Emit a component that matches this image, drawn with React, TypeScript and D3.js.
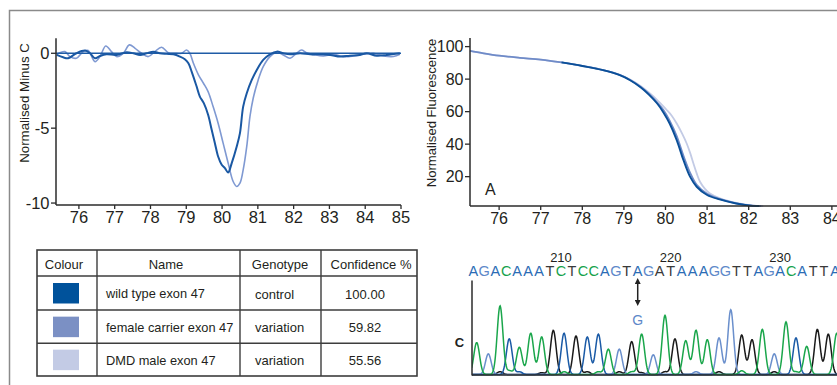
import React from "react";
import * as d3 from "d3";

// ---------- Data ----------
const leftXTicks = [76, 77, 78, 79, 80, 81, 82, 83, 84, 85];
const leftYTicks = [0, -5, -10];
const rightXTicks = [76, 77, 78, 79, 80, 81, 82, 83, 84];
const rightYTicks = [20, 40, 60, 80, 100];

// Difference plot (Normalised Minus C)
const diffDark: [number, number][] = [
  [75.38, -0.11], [75.56, -0.27], [75.7, -0.33], [75.93, 0], [76.17, 0.18], [76.31, 0], [76.45, -0.33],
  [76.59, -0.18], [76.77, -0.07], [77.05, -0.11], [77.33, 0.07], [77.52, 0], [77.71, -0.11], [77.89, 0],
  [78.08, 0.11], [78.26, 0], [78.45, -0.04], [78.64, -0.07], [78.82, -0.22], [78.96, -0.4], [79.06, -0.67],
  [79.15, -1.22], [79.29, -2.22], [79.38, -2.89], [79.49, -3.33], [79.61, -4.11], [79.71, -5.11],
  [79.8, -6.0], [79.89, -6.89], [79.99, -7.44], [80.08, -7.67], [80.17, -7.96], [80.27, -7.33],
  [80.41, -6.22], [80.5, -5.33], [80.59, -3.56], [80.69, -2.67], [80.83, -1.78], [80.97, -1.11],
  [81.15, -0.44], [81.34, -0.07], [81.53, 0.11], [81.71, 0], [81.9, -0.07], [82.18, 0], [82.46, -0.07],
  [82.74, -0.07], [83.02, -0.11], [83.3, -0.22], [83.57, -0.16], [83.85, -0.11], [84.04, 0], [84.32, -0.16],
  [84.6, -0.11], [84.97, 0],
];
const diffMedium: [number, number][] = [
  [75.38, -0.07], [75.61, 0.11], [75.75, -0.22], [75.93, -0.33], [76.12, 0.11], [76.26, 0.18], [76.45, -0.56],
  [76.59, -0.22], [76.75, 0.49], [76.91, 0.11], [77.05, -0.22], [77.24, 0], [77.41, 0.56], [77.57, 0.33],
  [77.75, 0], [77.94, -0.22], [78.12, 0.11], [78.31, 0.4], [78.5, 0.04], [78.68, 0], [78.87, 0], [79.01, 0.22],
  [79.1, 0], [79.2, -0.67], [79.34, -1.44], [79.48, -2.0], [79.61, -2.56], [79.75, -3.56], [79.89, -4.67],
  [80.03, -6.0], [80.17, -7.33], [80.31, -8.56], [80.41, -8.89], [80.5, -8.67], [80.59, -7.78], [80.69, -6.22],
  [80.78, -4.22], [80.87, -3.0], [81.01, -1.78], [81.15, -0.89], [81.34, -0.22], [81.53, 0.07], [81.71, -0.11],
  [81.9, -0.33], [82.08, 0], [82.22, 0.22], [82.36, 0.04], [82.6, -0.11], [82.83, -0.18], [83.11, -0.07],
  [83.39, -0.22], [83.67, -0.18], [83.95, -0.07], [84.23, 0], [84.51, -0.18], [84.79, -0.22], [84.97, -0.07],
];
const diffControl: [number, number][] = [[75.36, 0], [85, 0]];

// Normalised fluorescence
const fluoWild: [number, number][] = [
  [77.5, 90.3], [78.0, 88.1], [78.5, 85.5], [78.9, 82.4], [79.15, 79.3], [79.4, 75.0], [79.6, 70.5],
  [79.8, 65.0], [79.95, 59.5], [80.1, 52.7], [80.27, 42.5], [80.43, 30.3], [80.59, 20.0], [80.75, 13.8],
  [81.0, 8.7], [81.3, 6.0], [81.7, 3.5], [82.1, 2.0], [82.25, 1.95],
];
const fluoCarrier: [number, number][] = [
  [75.3, 97.4], [75.6, 96.0], [76.0, 94.4], [76.5, 93.1], [77.0, 92.0], [77.5, 90.3], [78.0, 88.2],
  [78.5, 85.6], [78.9, 82.6], [79.15, 79.5], [79.4, 75.3], [79.6, 71.0], [79.8, 65.6], [79.95, 61.0],
  [80.1, 54.5], [80.27, 45.0], [80.43, 33.0], [80.59, 22.5], [80.75, 15.0], [81.0, 9.5], [81.3, 6.3],
  [81.7, 3.6], [82.1, 2.1], [82.3, 1.95],
];
const fluoDMD: [number, number][] = [
  [75.3, 97.4], [75.6, 96.0], [76.0, 94.4], [76.5, 93.1], [77.0, 92.0], [77.5, 90.3], [78.0, 88.2],
  [78.5, 85.6], [78.9, 82.7], [79.15, 79.7], [79.4, 75.8], [79.6, 71.8], [79.71, 69.4], [79.85, 65.8],
  [80.03, 61.0], [80.15, 57.5], [80.27, 52.7], [80.4, 46.5], [80.51, 40.4], [80.6, 34.0], [80.67, 28.2],
  [80.75, 22.0], [80.83, 16.9], [80.95, 12.5], [81.07, 9.6], [81.31, 6.6], [81.7, 3.8], [82.1, 2.2], [82.35, 1.95],
];

// Table
const tableColours = ["#00529b", "#7b90c4", "#c3cbe5"];
const tableNames = ["wild type exon 47", "female carrier exon 47", "DMD male exon 47"];
const tableGenotypes = ["control", "variation", "variation"];
const tableConfidence = ["100.00", "59.82", "55.56"];
const tableHeaders = ["Colour", "Name", "Genotype", "Confidence %"];

// Sequence / chromatogram
const sequence = "AGACAAATCTCCAGTAGATAAAGGTTAGACATTA";
const seqStart = 202;
const seqNumberTicks = [210, 220, 230];
const darkCallIndex = 17;
const variantPos = 217;
const variantBase = "G";
// peaks: [position, height]
const peaksGreen: [number, number][] = [
  [202.31, 34], [204.44, 73], [206.2, 29], [207.24, 44], [208.24, 40], [214.32, 27], [217.36, 43],
  [219.49, 63], [221.38, 36], [222.32, 47], [223.35, 37], [228.37, 48], [230.53, 56], [232.42, 30],
  [235.16, 44], [205.3, 4], [210.3, 3], [213.4, 3], [216.45, 3], [226.5, 4], [231.44, 3],
];
const peaksDarkBlue: [number, number][] = [
  [205.28, 38], [210.28, 44], [212.4, 40], [213.41, 43], [231.44, 39], [206.2, 3],
];
const peaksBlack: [number, number][] = [
  [209.3, 47], [211.37, 41], [216.45, 35], [220.4, 38], [226.49, 42], [227.43, 37], [233.39, 48], [234.39, 43],
  [204.44, 3], [208.24, 2], [212.4, 3], [215.32, 3], [219.49, 3], [224.42, 3], [229.46, 3], [217.36, 2],
];
const peaksLightBlue: [number, number][] = [
  [203.37, 22], [215.32, 27], [218.42, 21], [224.42, 39], [225.49, 69], [229.46, 22], [222.32, 3],
];

const FONT = "'Liberation Sans', Arial, sans-serif";
const AXIS = "#2b2b2b";
const TXT = "#231f20";

export default function App() {
  const xL = d3.scaleLinear().domain([75.36, 85]).range([56, 401]);
  const yL = d3.scaleLinear().domain([-10.13, 1.0]).range([205, 38.3]);
  const xR = d3.scaleLinear().domain([75.3, 84.2]).range([470, 840.2]);
  const yR = d3.scaleLinear().domain([1.95, 105.3]).range([206, 38]);
  const xS = d3.scaleLinear().domain([202, 235]).range([473.3, 835]);
  const yS = d3.scaleLinear().domain([0, 100]).range([375, 281]);

  const lineL = d3.line<[number, number]>().x((d) => xL(d[0])).y((d) => yL(d[1])).curve(d3.curveCatmullRom.alpha(0.5));
  const lineR = d3.line<[number, number]>().x((d) => xR(d[0])).y((d) => yR(d[1])).curve(d3.curveCatmullRom.alpha(0.5));
  const lineS = d3.line<[number, number]>().x((d) => xS(d[0])).y((d) => yS(d[1]));

  const sigma = 0.26;
  const trace = (peaks: [number, number][]) => {
    const pts: [number, number][] = [];
    for (let p = 201.85; p <= 235.4; p += 0.04) {
      let v = 0.5;
      for (const [c, h] of peaks) v += h * Math.exp(-((p - c) * (p - c)) / (2 * sigma * sigma));
      pts.push([p, v]);
    }
    return lineS(pts) || "";
  };

  const letterColour = (ch: string, i: number) => {
    if (i === darkCallIndex) return "#3a3a3a";
    if (ch === "A") return "#2b6cb5";
    if (ch === "G") return "#5d88c9";
    if (ch === "C") return "#17a24b";
    return "#3a3a3a";
  };

  const colX = [37, 97, 240, 321, 417];
  const rowY = [250, 276, 310, 343.3, 376];
  const headerX = [64, 166, 280, 371];

  const arrowX = xS(variantPos);
  return (
    <svg
      width={837}
      height={385}
      style={{ position: "absolute", left: 0, top: 0, background: "#fff" }}
      fontFamily={FONT}
    >
      <defs>
        <clipPath id="chromClip">
          <rect x={472} y={270} width={365} height={106} />
        </clipPath>
        <marker id="ah" viewBox="0 0 10 10" refX={5} refY={5} markerWidth={4} markerHeight={4} orient="auto-start-reverse">
          <path d="M0,0 L10,5 L0,10 z" fill="#222" />
        </marker>
      </defs>

      {/* outer frame */}
      <path d="M9.5,385 L9.5,10.5 L837,10.5" fill="none" stroke="#8a8a8a" strokeWidth={1.5} />

      {/* ---------- Left chart ---------- */}
      <g>
        <path d={lineL(diffMedium) || ""} fill="none" stroke="#7f99d2" strokeWidth={1.6} />
        <path d={lineL(diffControl) || ""} fill="none" stroke="#1f5ca6" strokeWidth={1.5} />
        <path d={lineL(diffDark) || ""} fill="none" stroke="#1a58a3" strokeWidth={2} />
        <line x1={56} x2={56} y1={38.3} y2={205} stroke={AXIS} strokeWidth={1.5} />
        <line x1={56} x2={401} y1={205} y2={205} stroke={AXIS} strokeWidth={1.5} />
        {leftYTicks.map((t) => (
          <g key={t}>
            <line x1={51} x2={56} y1={yL(t)} y2={yL(t)} stroke={AXIS} strokeWidth={1.3} />
            <text x={49.5} y={yL(t)} dy="0.36em" textAnchor="end" fontSize={16.5} fill={TXT}>{t}</text>
          </g>
        ))}
        {leftXTicks.map((t) => (
          <g key={t}>
            <line x1={xL(t)} x2={xL(t)} y1={205} y2={209} stroke={AXIS} strokeWidth={1.3} />
            <text x={xL(t)} y={222.5} textAnchor="middle" fontSize={16.5} fill={TXT}>{t}</text>
          </g>
        ))}
        <text transform="translate(29,103) rotate(-90)" textAnchor="middle" fontSize={13.3} fill={TXT}>Normalised Minus C</text>
      </g>

      {/* ---------- Right chart ---------- */}
      <g>
        <path d={lineR(fluoDMD) || ""} fill="none" stroke="#c3cbe5" strokeWidth={1.8} />
        <path d={lineR(fluoCarrier) || ""} fill="none" stroke="#6f8bc8" strokeWidth={1.8} />
        <path d={lineR(fluoWild) || ""} fill="none" stroke="#0a4f98" strokeWidth={1.9} />
        <line x1={470} x2={470} y1={38} y2={206} stroke={AXIS} strokeWidth={1.5} />
        <line x1={470} x2={837} y1={206} y2={206} stroke={AXIS} strokeWidth={1.5} />
        {rightYTicks.map((t) => (
          <g key={t}>
            <line x1={465} x2={470} y1={yR(t)} y2={yR(t)} stroke={AXIS} strokeWidth={1.3} />
            <text x={463.5} y={yR(t)} dy="0.36em" textAnchor="end" fontSize={16} fill={TXT}>{t}</text>
          </g>
        ))}
        {rightXTicks.map((t) => (
          <g key={t}>
            <line x1={xR(t)} x2={xR(t)} y1={206} y2={210} stroke={AXIS} strokeWidth={1.3} />
            <text x={xR(t)} y={224} textAnchor="middle" fontSize={16} fill={TXT}>{t}</text>
          </g>
        ))}
        <text transform="translate(436,113) rotate(-90)" textAnchor="middle" fontSize={13.1} fill={TXT}>Normalised Fluorescence</text>
        <text x={485} y={195} fontSize={16} fill={TXT}>A</text>
      </g>

      {/* ---------- Table ---------- */}
      <g>
        <rect x={colX[0]} y={rowY[0]} width={colX[4] - colX[0]} height={rowY[4] - rowY[0]} fill="none" stroke="#3d3d3d" strokeWidth={1.6} />
        {colX.slice(1, 4).map((x) => (
          <line key={x} x1={x} x2={x} y1={rowY[0]} y2={rowY[4]} stroke="#3d3d3d" strokeWidth={1.4} />
        ))}
        {rowY.slice(1, 4).map((y) => (
          <line key={y} x1={colX[0]} x2={colX[4]} y1={y} y2={y} stroke="#3d3d3d" strokeWidth={1.4} />
        ))}
        {tableHeaders.map((h, i) => (
          <text key={h} x={headerX[i]} y={(rowY[0] + rowY[1]) / 2 + 1} dy="0.35em" textAnchor="middle" fontSize={13} fill={TXT}>{h}</text>
        ))}
        {tableNames.map((n, i) => {
          const cy = (rowY[i + 1] + rowY[i + 2]) / 2 + 1;
          return (
            <g key={n}>
              <rect x={53} y={cy - 11} width={26} height={20.5} fill={tableColours[i]} />
              <text x={106} y={cy} dy="0.35em" fontSize={12.8} fill={TXT}>{n}</text>
              <text x={255} y={cy} dy="0.35em" fontSize={13} fill={TXT}>{tableGenotypes[i]}</text>
              <text x={365} y={cy} dy="0.35em" textAnchor="middle" fontSize={13} fill={TXT}>{tableConfidence[i]}</text>
            </g>
          );
        })}
      </g>

      {/* ---------- Chromatogram ---------- */}
      <g>
        {seqNumberTicks.map((n) => (
          <text key={n} x={xS(n)} y={261.5} textAnchor="middle" fontSize={13} fill={TXT}>{n}</text>
        ))}
        {sequence.split("").map((ch, i) => (
          <text key={i} x={xS(seqStart + i)} y={276} textAnchor="middle" fontSize={14.5} fill={letterColour(ch, i)}>{ch}</text>
        ))}
        <line x1={arrowX} x2={arrowX} y1={281} y2={303} stroke="#222" strokeWidth={1.5} markerStart="url(#ah)" markerEnd="url(#ah)" />
        <text x={arrowX} y={325} textAnchor="middle" fontSize={14} fill="#5d88c9">{variantBase}</text>
        <text x={459.5} y={347} textAnchor="middle" fontSize={13} fontWeight={600} fill={TXT}>C</text>
        <g clipPath="url(#chromClip)" fill="none" strokeWidth={1.5}>
          <path d={trace(peaksBlack)} stroke="#1a1a1a" />
          <path d={trace(peaksLightBlue)} stroke="#6a8fcc" />
          <path d={trace(peaksDarkBlue)} stroke="#1a5aa6" />
          <path d={trace(peaksGreen)} stroke="#1aa64b" />
        </g>
        <line x1={472} x2={472} y1={280.5} y2={375.5} stroke={AXIS} strokeWidth={1.5} />
        <line x1={472} x2={837} y1={375} y2={375} stroke={AXIS} strokeWidth={1.5} />
      </g>
    </svg>
  );
}
